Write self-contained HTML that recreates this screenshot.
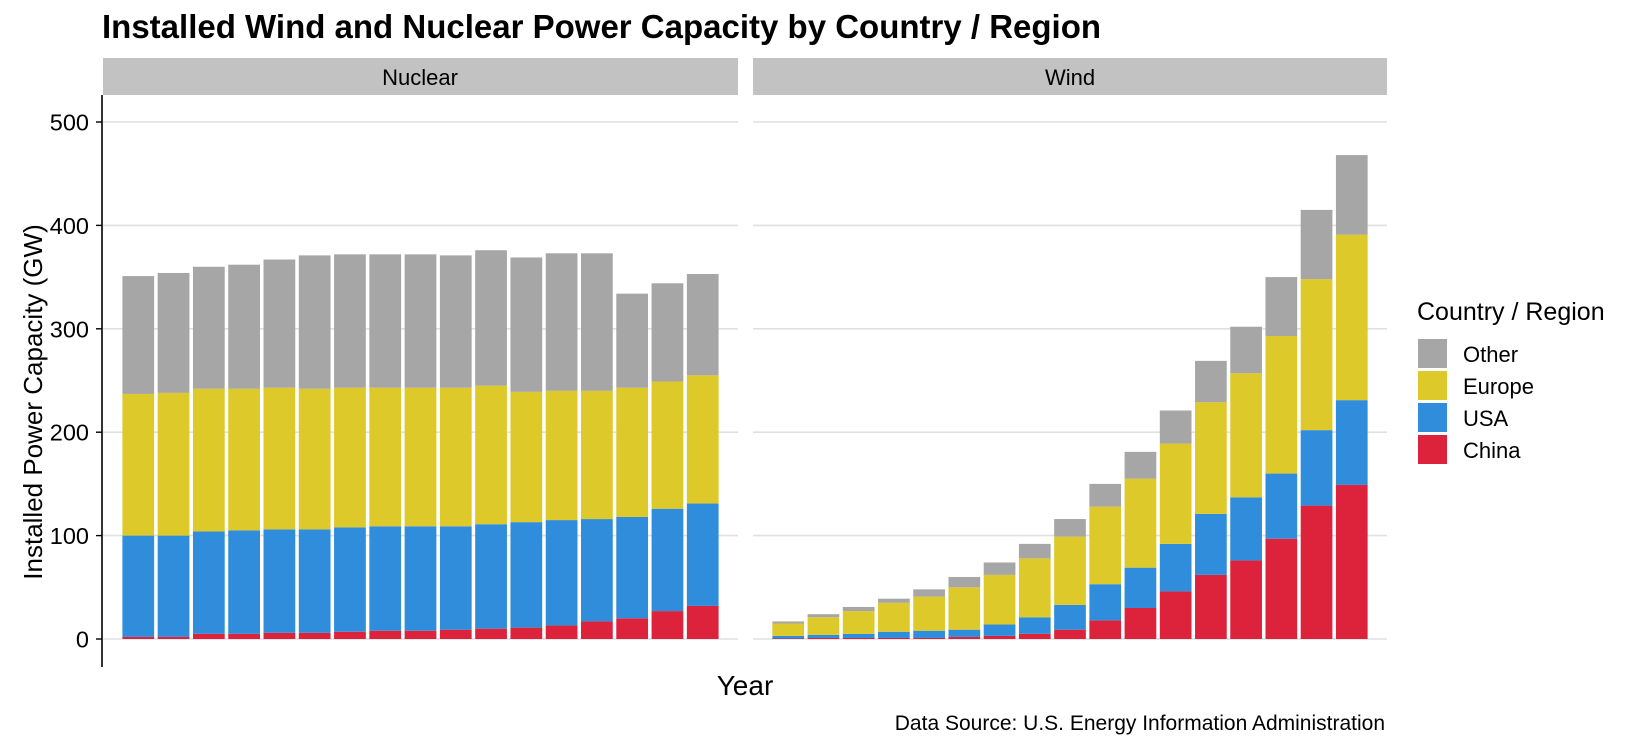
<!DOCTYPE html>
<html><head><meta charset="utf-8"><style>
body{margin:0;background:#fff;overflow:hidden;}
svg{display:block;font-family:"Liberation Sans",Arial,sans-serif;}
</style></head><body>
<svg id="chart" width="1650" height="750" xmlns="http://www.w3.org/2000/svg">
<text x="102" y="38" font-size="33" font-weight="bold" fill="#000">Installed Wind and Nuclear Power Capacity by Country / Region</text>
<rect x="103" y="58" width="635" height="37" fill="#c2c2c2"/>
<text x="420" y="85" font-size="22" text-anchor="middle">Nuclear</text>
<rect x="753" y="58" width="634" height="37" fill="#c2c2c2"/>
<text x="1070" y="85" font-size="22" text-anchor="middle">Wind</text>
<g id="grid"></g>
<g id="bars"></g>
<line x1="102" y1="95" x2="102" y2="667" stroke="#000" stroke-width="1.6"/>
<g id="yticks"></g>
<text transform="translate(42,402) rotate(-90)" font-size="26" text-anchor="middle">Installed Power Capacity (GW)</text>
<text x="745" y="695" font-size="28" text-anchor="middle">Year</text>
<text x="1385" y="730" font-size="21" text-anchor="end">Data Source: U.S. Energy Information Administration</text>
<g id="legend">
<text x="1417" y="320" font-size="25">Country / Region</text>
</g>
</svg>
<script>
const series = ["Other","Europe","USA","China"];
const colors = {Other:"#a6a6a6",Europe:"#ddc92a",USA:"#2f8ddc",China:"#dc233b"};
const yTicks = [0,100,200,300,400,500];
const nucChina  = [2,2,5,5,6,6,7,8,8,9,10,11,13,17,20,27,32];
const nucUSA    = [98,98,99,100,100,100,101,101,101,100,101,102,102,99,98,99,99];
const nucEurope = [137,138,138,137,137,136,135,134,134,134,134,126,125,124,125,123,124];
const nucOther  = [114,116,118,120,124,129,129,129,129,128,131,130,133,133,91,95,98];
const windChina  = [0.5,1,1,1,1,2,3,5,9,18,30,46,62,76,97,129,149];
const windUSA    = [2.5,3,4,6,7,7,11,16,24,35,39,46,59,61,63,73,82];
const windEurope = [12,17,22,28,33,41,48,57,66,75,86,97,108,120,133,146,160];
const windOther  = [2,3,4,4,7,10,12,14,17,22,26,32,40,45,57,67,77];

const NS="http://www.w3.org/2000/svg";
function y(v){return 639 - v*1.034;}
const panels=[
 {name:"nuclear",x0:103,w:635,data:{China:nucChina,USA:nucUSA,Europe:nucEurope,Other:nucOther}},
 {name:"wind",x0:753,w:634,data:{China:windChina,USA:windUSA,Europe:windEurope,Other:windOther}}
];
function xc(p,i,n){const step=p.w/(n+1); return p.x0+step*(i+1);}
const grid=document.getElementById('grid');
panels.forEach(p=>{
 yTicks.forEach(t=>{
  const l=document.createElementNS(NS,'line');
  l.setAttribute('x1',p.x0);l.setAttribute('x2',p.x0+p.w);
  l.setAttribute('y1',y(t));l.setAttribute('y2',y(t));
  l.setAttribute('stroke','#e0e0e0');l.setAttribute('stroke-width','1.6');
  
  
  grid.appendChild(l);
 });
});
const yt=document.getElementById('yticks');
yTicks.forEach(t=>{
 const tk=document.createElementNS(NS,'line');
 tk.setAttribute('x1',96);tk.setAttribute('x2',102);
 tk.setAttribute('y1',y(t));tk.setAttribute('y2',y(t));
 tk.setAttribute('stroke','#000');tk.setAttribute('stroke-width','1.4');
 
 
 yt.appendChild(tk);
 const tx=document.createElementNS(NS,'text');
 tx.setAttribute('x',89);tx.setAttribute('y',y(t)+8.5);
 tx.setAttribute('font-size','23.5');tx.setAttribute('text-anchor','end');
 tx.textContent=t;
 
 
 yt.appendChild(tx);
});
const bars=document.getElementById('bars');
const order=["China","USA","Europe","Other"];
panels.forEach(p=>{
 const n=p.data.China.length;
 const step=p.w/(n+1), bw=step*0.9;
 for(let i=0;i<n;i++){
  let cum=0;
  order.forEach(s=>{
   const v=p.data[s][i];
   const r=document.createElementNS(NS,'rect');
   r.setAttribute('x',xc(p,i,n)-bw/2);
   r.setAttribute('width',bw);
   r.setAttribute('y',y(cum+v));
   r.setAttribute('height',Math.max(0,y(cum)-y(cum+v)));
   r.setAttribute('fill',colors[s]);
   
   
   bars.appendChild(r);
   cum+=v;
  });
 }
});
const lg=document.getElementById('legend');
series.forEach((s,k)=>{
 const yy=339+k*32;
 const r=document.createElementNS(NS,'rect');
 r.setAttribute('x',1418);r.setAttribute('y',yy);r.setAttribute('width',29);r.setAttribute('height',29);
 r.setAttribute('fill',colors[s]);
 
 
 lg.appendChild(r);
 const t=document.createElementNS(NS,'text');
 t.setAttribute('x',1463);t.setAttribute('y',yy+23);t.setAttribute('font-size','22');
 t.textContent=s;
 
 
 lg.appendChild(t);
});
</script>
</body></html>
